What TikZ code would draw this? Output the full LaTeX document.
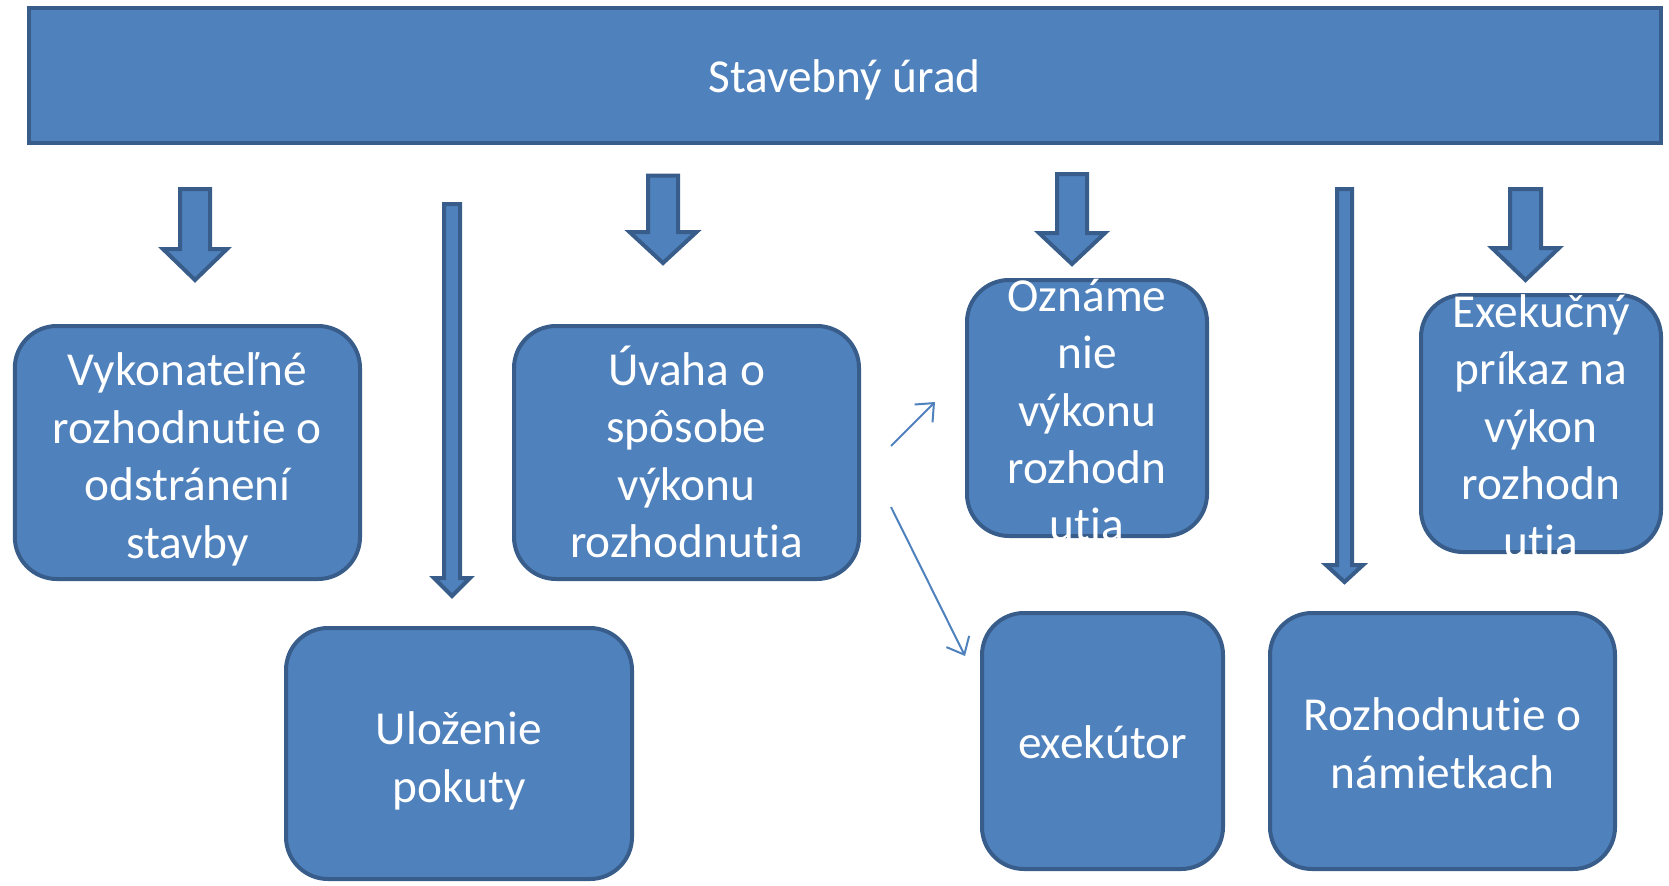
\documentclass[tikz,border=0pt]{standalone}
\usepackage{fontspec}
\setmainfont[Ligatures=NoCommon]{Carlito}
\usetikzlibrary{arrows.meta}
\definecolor{boxfill}{RGB}{79,129,189}
\definecolor{boxline}{RGB}{56,93,138}

\begin{document}
\begin{tikzpicture}[x=0.75pt,y=0.75pt,yscale=-1,xscale=1,
	roundbox/.style={draw=boxline,line width=3pt,fill=boxfill,rounded corners=31.5pt},
	bannerbox/.style={draw=boxline,line width=3pt,fill=boxfill},
	blockarrow/.style={draw=boxline,line width=3pt,fill=boxfill,line join=miter},
	connector/.style={draw=boxfill,line width=1.5pt,-{Straight Barb[length=11pt,width=19pt]}},
	boxtext/.style={text=white,align=center,inner sep=0pt,font=\fontsize{35.5}{43.1}\selectfont}]
	\path[use as bounding box] (0,0) rectangle (1669,885);
	
	%Shape: Rectangle [banner]
	\draw [bannerbox] (28.6,8) rectangle (1660.6,143);
	
	%Shape: Rounded Rectangle [row 1]
	\draw [roundbox] (14.8,326) rectangle (360,579);
	\draw [roundbox] (514,326) rectangle (859,579);
	\draw [roundbox] (967,280) rectangle (1207,536);
	\draw [roundbox] (1421,295) rectangle (1661,552);
	%Shape: Rounded Rectangle [row 2]
	\draw [roundbox] (286,628) rectangle (632,879);
	\draw [roundbox] (982,613) rectangle (1223,869);
	\draw [roundbox] (1270,613) rectangle (1615,869);
	
	%Shape: Down Arrow
	\draw [blockarrow] (180,189) -- (210,189) -- (210,249) -- (227,249) -- (195,280) -- (163,249) -- (180,249) -- cycle ;
	%Shape: Down Arrow
	\draw [blockarrow] (444,204) -- (460,204) -- (460,578) -- (470,578) -- (452,596) -- (434,578) -- (444,578) -- cycle ;
	%Shape: Down Arrow
	\draw [blockarrow] (648,175.5) -- (678,175.5) -- (678,232) -- (696.5,232) -- (663,263) -- (629.5,232) -- (648,232) -- cycle ;
	%Shape: Down Arrow
	\draw [blockarrow] (1057,174) -- (1087,174) -- (1087,233) -- (1105,233) -- (1072,264) -- (1039,233) -- (1057,233) -- cycle ;
	%Shape: Down Arrow
	\draw [blockarrow] (1337,189) -- (1352,189) -- (1352,565) -- (1363,565) -- (1344.5,582) -- (1326,565) -- (1337,565) -- cycle ;
	%Shape: Down Arrow
	\draw [blockarrow] (1510,189) -- (1541,189) -- (1541,248) -- (1559,248) -- (1525.5,280) -- (1492,248) -- (1510,248) -- cycle ;
	
	%Straight Lines
	\coordinate (upS) at (891,446);
	\coordinate (upE) at (935,402);
	\coordinate (downS) at (891,507);
	\coordinate (downE) at (965,656);
	\draw [connector] (upS) -- (upE);
	\draw [connector] (downS) -- (downE);
	
	% Text Node
	\node [boxtext] (urad) at (844.6,80) {Stavebný úrad};
	% Text Node
	\node [boxtext] (vykonatelne) at (187.4,459.5) {Vykonateľné\\rozhodnutie o\\odstránení\\stavby};
	% Text Node
	\node [boxtext] (uvaha) at (686.5,452) {Úvaha o\\spôsobe\\výkonu\\rozhodnutia};
	% Text Node
	\node [boxtext] (oznamenie) at (1087,410) {Oznáme\\nie\\výkonu\\rozhodn\\utia};
	% Text Node
	\node [boxtext] (prikaz) at (1541,426) {Exekučný\\príkaz na\\výkon\\rozhodn\\utia};
	% Text Node
	\node [boxtext] (pokuta) at (459,761) {Uloženie\\pokuty};
	% Text Node
	\node [boxtext] (exekutor) at (1102.5,742) {exekútor};
	% Text Node
	\node [boxtext] (namietky) at (1442.5,743) {Rozhodnutie o\\námietkach};
	
\end{tikzpicture}
\end{document}
